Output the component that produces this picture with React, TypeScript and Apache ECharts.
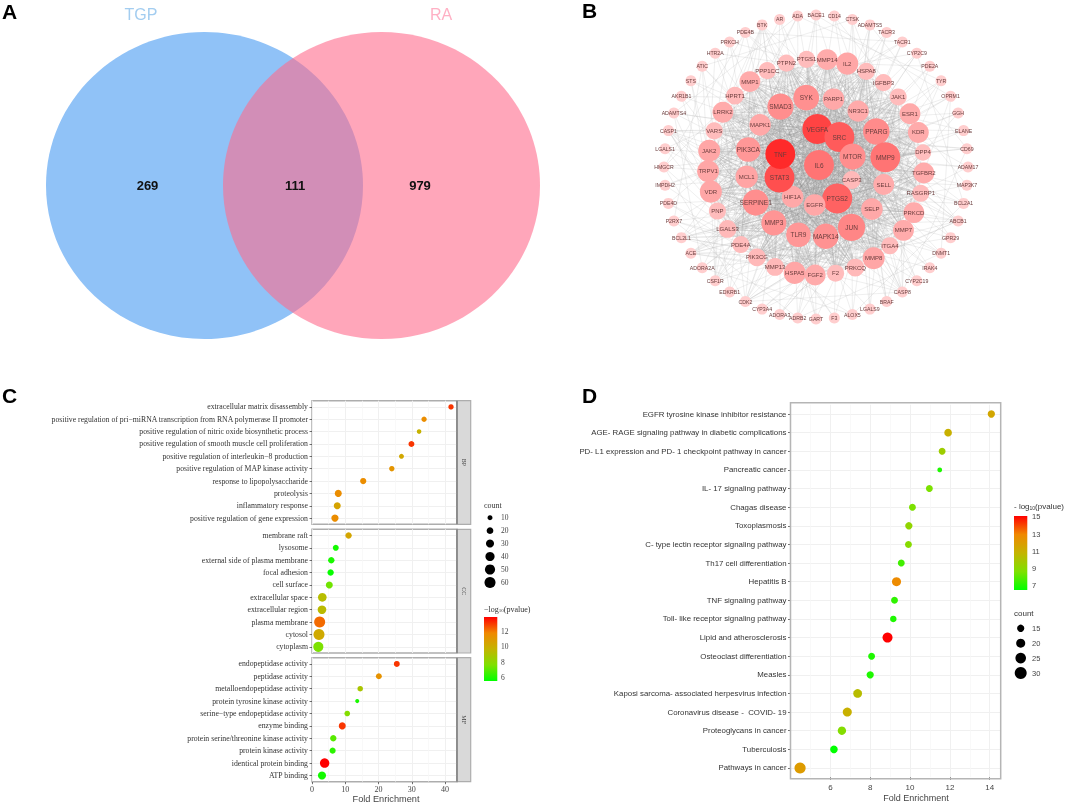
import React, { useEffect, useRef } from "react";
import * as echarts from "echarts";

/* ---------- A: Venn ---------- */
const vennNames = ["TGP", "RA"];
const vennCounts = ["269", "111", "979"];

/* ---------- B: network ---------- */
const coreCentre = "IL6";
const coreRing = ["VEGFA", "SRC", "MTOR", "CASP3", "PTGS2", "EGFR", "HIF1A", "STAT3", "TNF"];
const innerRing = ["SYK", "PARP1", "NR3C1", "PPARG", "MMP9", "SELL", "SELP", "JUN", "MAPK14", "TLR9", "MMP3", "SERPINE1", "MCL1", "PIK3CA", "MAPK1", "SMAD3"];
const middleRing = ["PTGS1", "MMP14", "IL2", "HSPA8", "IGFBP3", "JAK1", "ESR1", "KDR", "DPP4", "TGFBR2", "RASGRP1", "PRKCD", "MMP7", "ITGA4", "MMP8", "PRKCQ", "F2", "FGF2", "HSPA5", "MMP13", "PIK3CG", "PDE4A", "LGALS3", "PNP", "VDR", "TRPV1", "JAK2", "VARS", "LRRK2", "HPRT1", "MMP1", "PPP1CC", "PTPN2"];
const outerRing = ["BACE1", "CD14", "CTSK", "ADAMTS5", "TACR3", "TACR1", "CYP2C9", "PDE2A", "TYR", "OPRM1", "GGH", "ELANE", "CD69", "ADAM17", "MAP3K7", "BCL2A1", "ABCB1", "GPR29", "DNMT1", "IRAK4", "CYP2C19", "CASP8", "BRAF", "LGALS9", "ALOX5", "F3", "GART", "ADRB2", "ADORA3", "CYP3A4", "CDK2", "EDKRB1", "CSF1R", "ADORA2A", "ACE", "BCL2L1", "P2RX7", "PDE4D", "IMPDH2", "HMGCR", "LGALS1", "CASP1", "ADAMTS4", "AKR1B1", "STS", "ATIC", "HTR2A", "PRKCH", "PDE4B", "BTK", "AR", "ADA"];
// Rim nodes from which the picture shows a visible fan of edges.
const outerHubs = ["BCL2L1", "ACE", "CASP1", "BTK", "ABCB1", "CASP8", "CSF1R", "CDK2"];
// Degrees are estimated from node size and colour in the picture.
const coreCentreDegree = 60;
const coreDegrees = [68, 64, 50, 28, 63, 38, 38, 66, 72];
const innerDegrees = [49, 38, 37, 51, 60, 36, 38, 53, 48, 46, 47, 50, 40, 46, 38, 50];
const middleDegrees = [26, 36, 39, 26, 26, 26, 36, 36, 24, 36, 26, 36, 36, 26, 39, 28, 26, 36, 39, 28, 28, 26, 28, 26, 39, 39, 39, 26, 36, 28, 36, 26, 26];
const outerDegree = 10;

/* ---------- C: GO enrichment ---------- */
const bpTerms = ["extracellular matrix disassembly", "positive regulation of pri\u2212miRNA transcription from RNA polymerase II promoter", "positive regulation of nitric oxide biosynthetic process", "positive regulation of smooth muscle cell proliferation", "positive regulation of interleukin\u22128 production", "positive regulation of MAP kinase activity", "response to lipopolysaccharide", "proteolysis", "inflammatory response", "positive regulation of gene expression"];
const bpEnrichment = [41.8, 33.7, 32.2, 29.9, 26.9, 24.0, 15.4, 7.9, 7.6, 6.9];
const bpCount = [12, 12, 8, 15, 10, 12, 17, 22, 22, 24];
const bpLogP = [13, 11.5, 9.8, 13, 10.3, 11.2, 11.5, 11.5, 10.5, 11.5];

const ccTerms = ["membrane raft", "lysosome", "external side of plasma membrane", "focal adhesion", "cell surface", "extracellular space", "extracellular region", "plasma membrane", "cytosol", "cytoplasm"];
const ccEnrichment = [11.0, 7.15, 5.8, 5.6, 5.2, 3.1, 3.0, 2.3, 2.1, 1.9];
const ccCount = [18, 15, 18, 18, 22, 35, 35, 60, 60, 50];
const ccLogP = [10.4, 5.9, 6.0, 5.7, 7.4, 9.3, 9.4, 12.2, 10.2, 7.6];

const mfTerms = ["endopeptidase activity", "peptidase activity", "metalloendopeptidase activity", "protein tyrosine kinase activity", "serine\u2212type endopeptidase activity", "enzyme binding", "protein serine/threonine kinase activity", "protein kinase activity", "identical protein binding", "ATP binding"];
const mfEnrichment = [25.5, 20.1, 14.5, 13.6, 10.6, 9.1, 6.4, 6.2, 3.8, 3.0];
const mfCount = [15, 15, 13, 6, 13, 22, 18, 16, 43, 30];
const mfLogP = [13, 11.3, 8.9, 6.0, 7.8, 13, 7.0, 6.3, 13.8, 5.9];

const goFacets = ["BP", "CC", "MF"];
const goXTicks = [0, 10, 20, 30, 40];
const goCountLegend = [10, 20, 30, 40, 50, 60];
const goColorLegend = [12, 10, 8, 6];

/* ---------- D: KEGG enrichment ---------- */
const keggTerms = ["EGFR tyrosine kinase inhibitor resistance", "AGE- RAGE signaling pathway in diabetic complications", "PD- L1 expression and PD- 1 checkpoint pathway in cancer", "Pancreatic cancer", "IL- 17 signaling pathway", "Chagas disease", "Toxoplasmosis", "C- type lectin receptor signaling pathway", "Th17 cell differentiation", "Hepatitis B", "TNF signaling pathway", "Toll- like receptor signaling pathway", "Lipid and atherosclerosis", "Osteoclast differentiation", "Measles", "Kaposi sarcoma- associated herpesvirus infection", "Coronavirus disease -  COVID- 19", "Proteoglycans in cancer", "Tuberculosis", "Pathways in cancer"];
const keggEnrichment = [14.08, 11.91, 11.61, 11.49, 10.97, 10.12, 9.94, 9.92, 9.56, 9.32, 9.22, 9.16, 8.87, 8.07, 8.0, 7.37, 6.85, 6.58, 6.18, 4.48];
const keggCount = [15, 16, 14, 9, 14, 14, 15, 14, 14, 20, 14, 13, 23, 14, 15, 19, 20, 18, 16, 27];
const keggLogP = [11.5, 11, 9.6, 7, 8.6, 8.6, 9.2, 8.9, 7.6, 12.8, 7.3, 7, 15.1, 7, 7, 10.4, 11, 8.8, 6.5, 12];
const keggXTicks = [6, 8, 10, 12, 14];
const keggCountLegend = [15, 20, 25, 30];
const keggColorLegend = [15, 13, 11, 9, 7];

/* ---------- shared look ---------- */
const SERIF = "Liberation Serif";
const SANS = "Liberation Sans";
const gradientStops = ["#00FF00", "#7FE000", "#C4B400", "#F08800", "#FF0000"];
const goRange = [5.6, 13.8];
const keggRange = [6.5, 15.1];
const goSize = (c: number) => 1.31 * Math.sqrt(c) + 0.86;
const keggSize = (c: number) => 2.93 * Math.sqrt(c) - 4.05;

const hexToRgb = (h: string) => [1, 3, 5].map((i) => parseInt(h.slice(i, i + 2), 16));
const degreeColorStops: [number, string][] = [[10, "#FFCECE"], [26, "#FFBCBC"], [38, "#FFA8A8"], [50, "#FF8E8E"], [60, "#FF7474"], [72, "#FF2A2A"]];
function degreeColor(d: number) {
  for (let i = 1; i < degreeColorStops.length; i++) {
    const [d0, c0] = degreeColorStops[i - 1];
    const [d1, c1] = degreeColorStops[i];
    if (d <= d1) {
      const t = Math.max(0, (d - d0) / (d1 - d0));
      const a = hexToRgb(c0), b = hexToRgb(c1);
      return `rgb(${a.map((v, k) => Math.round(v + (b[k] - v) * t)).join(",")})`;
    }
  }
  return degreeColorStops[degreeColorStops.length - 1][1];
}
const degreeSize = (d: number) => Math.min(30, 11 + (d - 10) * 0.38);

function buildNetwork() {
  const R = { outer: 152, middle: 108, inner: 70, core: 38 };
  const place = (i: number, n: number, r: number, start: number) => {
    const a = ((start + (i * 360) / n) * Math.PI) / 180;
    return { x: r * Math.sin(a), y: -r * Math.cos(a) };
  };
  const node = (name: string, deg: number, p: { x: number; y: number }) => ({
    name, x: p.x, y: p.y,
    symbolSize: degreeSize(deg),
    itemStyle: { color: degreeColor(deg) },
    label: { fontSize: deg >= 45 ? 6.5 : deg >= 24 ? 6 : 5.2 },
  });
  const nodes = [
    ...outerRing.map((n, i) => node(n, outerDegree, place(i, 52, R.outer, 0))),
    ...middleRing.map((n, i) => node(n, middleDegrees[i], place(i, 33, R.middle, -5))),
    ...innerRing.map((n, i) => node(n, innerDegrees[i], place(i, 16, R.inner, -8))),
    node(coreCentre, coreCentreDegree, { x: 3, y: -2 }),
    ...coreRing.map((n, i) => node(n, coreDegrees[i], place(i, 10, R.core, 2))),
  ];
  // The individual edges of the original cannot be read from the picture. These links are an
  // illustrative, fixed wiring that reproduces its density (dense centre, sparse rim), not real data.
  const links: any[] = [];
  const strong = { color: "#8C8C8C", width: 0.45, opacity: 0.42 };
  const faint = { color: "#B0B0B0", width: 0.4, opacity: 0.5 };
  const add = (source: string, target: string, lineStyle: any = strong) => {
    if (source !== target) links.push({ source, target, lineStyle });
  };
  const core = [coreCentre, ...coreRing];
  core.forEach((a, i) => core.slice(i + 1).forEach((b) => add(a, b)));
  innerRing.forEach((a, i) => {
    core.forEach((b) => add(a, b));
    innerRing.slice(i + 1).forEach((b) => add(a, b));
    for (let k = 0; k < 17; k++) add(a, middleRing[(i * 2 + k * 2) % 33]);
  });
  middleRing.forEach((a, i) => {
    for (let k = 0; k < 7; k++) add(a, core[(i + k) % 10]);
    [7, 11, 4, 16].forEach((s) => add(a, middleRing[(i + s) % 33], faint));
  });
  outerRing.forEach((a, i) => {
    add(a, core[i % 10], faint);
    add(a, innerRing[(i * 3) % 16], faint);
    add(a, middleRing[(i * 5) % 33], faint);
    add(a, middleRing[(i + 13) % 33], faint);
    if (i % 3 === 0) add(a, outerRing[(i + 9) % 52], faint);
  });
  outerHubs.forEach((h, j) => {
    for (let k = 0; k < 7; k++) add(h, middleRing[(j * 4 + k * 3) % 33], faint);
  });
  return { nodes, links };
}

/* ---------- C panels ---------- */
const goPanels = [
  { top: 400.7, height: 123.6, terms: bpTerms, x: bpEnrichment, c: bpCount, p: bpLogP },
  { top: 529.3, height: 123.7, terms: ccTerms, x: ccEnrichment, c: ccCount, p: ccLogP },
  { top: 657.7, height: 124, terms: mfTerms, x: mfEnrichment, c: mfCount, p: mfLogP },
];
const GO_LEFT = 312, GO_RIGHT = 457, STRIP_RIGHT = 470.7;

const gridLine = { color: "#F0F0F0", width: 1 };
const minorLine = { color: "#F6F6F6", width: 0.7 };

function buildOption() {
  const grid: any[] = [], xAxis: any[] = [], yAxis: any[] = [], series: any[] = [], graphic: any[] = [];
  const text = (t: string, x: number, y: number, o: any = {}) => ({
    type: "text", x, y, z: 20, silent: true,
    style: { text: t, fontFamily: SANS, fontSize: 8, fill: "#333", align: "left", verticalAlign: "middle", ...o },
  });

  // Panel letters
  graphic.push(text("A", 2, 11, { fontSize: 21, fontWeight: "bold", fill: "#000" }));
  graphic.push(text("B", 582, 10, { fontSize: 21, fontWeight: "bold", fill: "#000" }));
  graphic.push(text("C", 2, 395, { fontSize: 21, fontWeight: "bold", fill: "#000" }));
  graphic.push(text("D", 582, 395, { fontSize: 21, fontWeight: "bold", fill: "#000" }));

  // A: Venn
  graphic.push({ type: "ellipse", z: 1, silent: true, shape: { cx: 204.5, cy: 185.5, rx: 158.5, ry: 153.5 }, style: { fill: "#90C2F7" } });
  graphic.push({ type: "ellipse", z: 2, silent: true, shape: { cx: 381.5, cy: 185.5, rx: 158.5, ry: 153.5 }, style: { fill: "#FF6B8C", opacity: 0.6 } });
  graphic.push(text(vennNames[0], 141, 14, { fontSize: 16, fill: "#A3CDF0", align: "center" }));
  graphic.push(text(vennNames[1], 441, 14, { fontSize: 16, fill: "#FFB0C4", align: "center" }));
  [147.5, 295, 420].forEach((x, i) => graphic.push(text(vennCounts[i], x, 185, { fontSize: 13, fontWeight: "bold", fill: "#111", align: "center" })));

  // C: three facets
  goPanels.forEach((pn, i) => {
    const last = i === goPanels.length - 1;
    grid.push({ left: GO_LEFT, top: pn.top, width: GO_RIGHT - GO_LEFT, height: pn.height, show: true, borderColor: "#ADADAD", borderWidth: 1.5, backgroundColor: "#fff" });
    xAxis.push({
      gridIndex: i, type: "value", min: 0, max: 43.6, interval: 10,
      axisLine: { show: false },
      axisTick: { show: last, length: 2.5, lineStyle: { color: "#333", width: 0.7 }, customValues: goXTicks },
      axisLabel: { show: last, fontFamily: SERIF, fontSize: 8, color: "#444", margin: 4, customValues: goXTicks },
      splitLine: { show: true, lineStyle: gridLine },
      minorTick: { show: false, splitNumber: 2 },
      minorSplitLine: { show: true, lineStyle: minorLine },
    });
    yAxis.push({
      gridIndex: i, type: "category", data: pn.terms, inverse: true,
      axisLine: { show: false },
      axisTick: { show: true, alignWithLabel: true, length: 2.5, lineStyle: { color: "#333", width: 0.7 } },
      axisLabel: { interval: 0, fontFamily: SERIF, fontSize: 7.75, color: "#333", margin: 4 },
      splitLine: { show: true, alignWithLabel: true, interval: 0, lineStyle: gridLine },
    });
    series.push({
      type: "scatter", xAxisIndex: i, yAxisIndex: i,
      data: pn.terms.map((t, k) => [pn.x[k], t, pn.c[k], pn.p[k]]),
      encode: { x: 0, y: 1 },
      symbolSize: (v: any[]) => goSize(v[2]),
      itemStyle: { opacity: 1 },
      silent: true,
    });
    // strip
    const midY = pn.top + pn.height / 2;
    graphic.push({ type: "rect", z: 10, silent: true, shape: { x: GO_RIGHT, y: pn.top, width: STRIP_RIGHT - GO_RIGHT, height: pn.height }, style: { fill: "#D9D9D9", stroke: "#ADADAD", lineWidth: 1.2 } });
    graphic.push({ type: "line", z: 11, silent: true, shape: { x1: GO_RIGHT, y1: pn.top, x2: GO_RIGHT, y2: pn.top + pn.height }, style: { stroke: "#7F7F7F", lineWidth: 1.5 } });
    graphic.push({ ...text(goFacets[i], (GO_RIGHT + STRIP_RIGHT) / 2, midY, { fontFamily: SERIF, fontSize: 6, fill: "#444", align: "center" }), rotation: -Math.PI / 2 });
  });
  graphic.push(text("Fold Enrichment", 386, 799, { fontSize: 9.2, fill: "#444", align: "center" }));

  // C legends
  graphic.push(text("count", 484, 505, { fontFamily: SERIF, fontSize: 8 }));
  goCountLegend.forEach((c, i) => {
    const y = 517.7 + i * 12.95;
    graphic.push({ type: "circle", z: 20, silent: true, shape: { cx: 490, cy: y, r: goSize(c) / 2 }, style: { fill: "#000" } });
    graphic.push(text(String(c), 501, y, { fontFamily: SERIF, fontSize: 7.5, fill: "#444" }));
  });
  graphic.push(text("{a|\u2212log}{b|10}{a|(pvalue)}", 484, 609, { fontFamily: SERIF, rich: { a: { fontFamily: SERIF, fontSize: 8, fill: "#333" }, b: { fontFamily: SERIF, fontSize: 5, fill: "#333", verticalAlign: "bottom" } } }));
  const colorbar = (x: number, y: number, w: number, h: number) => ({
    type: "rect", z: 20, silent: true, shape: { x, y, width: w, height: h },
    style: { fill: new echarts.graphic.LinearGradient(0, 0, 0, 1, gradientStops.slice().reverse().map((color, i) => ({ offset: i / 4, color }))) },
  });
  graphic.push(colorbar(484, 617, 13.3, 64));
  goColorLegend.forEach((v) => {
    const y = 617 + ((goRange[1] - v) / (goRange[1] - goRange[0])) * 64;
    graphic.push(text(String(v), 501, y, { fontFamily: SERIF, fontSize: 7.5, fill: "#444" }));
  });

  // D
  const gi = goPanels.length;
  grid.push({ left: 790.5, top: 404.7, width: 210.2, height: 372.6 });
  graphic.push({ type: "rect", z: 9, silent: true, shape: { x: 790.5, y: 402.7, width: 210.2, height: 376 }, style: { fill: "none", stroke: "#B5B5B5", lineWidth: 1.5 } });
  xAxis.push({
    gridIndex: gi, type: "value", min: 4, max: 14.55, interval: 2,
    axisLine: { show: false },
    axisTick: { show: true, length: 2.5, lineStyle: { color: "#333", width: 0.7 }, customValues: keggXTicks },
    axisLabel: { fontFamily: SANS, fontSize: 8, color: "#444", margin: 6, customValues: keggXTicks },
    splitLine: { show: true, lineStyle: gridLine },
    minorTick: { show: false, splitNumber: 2 },
    minorSplitLine: { show: true, lineStyle: minorLine },
  });
  yAxis.push({
    gridIndex: gi, type: "category", data: keggTerms, inverse: true,
    axisLine: { show: false },
    axisTick: { show: true, alignWithLabel: true, length: 2.5, lineStyle: { color: "#333", width: 0.7 } },
    axisLabel: { interval: 0, fontFamily: SANS, fontSize: 7.85, color: "#333", margin: 4 },
    splitLine: { show: true, alignWithLabel: true, interval: 0, lineStyle: gridLine },
  });
  series.push({
    type: "scatter", xAxisIndex: gi, yAxisIndex: gi,
    data: keggTerms.map((t, k) => [keggEnrichment[k], t, keggCount[k], keggLogP[k]]),
    encode: { x: 0, y: 1 },
    symbolSize: (v: any[]) => keggSize(v[2]),
    itemStyle: { opacity: 1 },
    silent: true,
  });
  graphic.push(text("Fold Enrichment", 916, 798, { fontSize: 9, fill: "#444", align: "center" }));

  // D legends
  graphic.push(text("{a|- log}{b|10}{a|(pvalue)}", 1014, 506.7, { rich: { a: { fontFamily: SANS, fontSize: 8, fill: "#333" }, b: { fontFamily: SANS, fontSize: 5, fill: "#333", verticalAlign: "bottom" } } }));
  graphic.push(colorbar(1014, 516, 13.3, 74));
  keggColorLegend.forEach((v) => {
    const y = 516 + ((keggRange[1] - v) / (keggRange[1] - keggRange[0])) * 74;
    graphic.push(text(String(v), 1032, y, { fontSize: 7.5, fill: "#444" }));
  });
  graphic.push(text("count", 1014, 613, { fontSize: 8 }));
  keggCountLegend.forEach((c, i) => {
    const y = 628.3 + i * 14.9;
    graphic.push({ type: "circle", z: 20, silent: true, shape: { cx: 1020.7, cy: y, r: keggSize(c) / 2 }, style: { fill: "#000" } });
    graphic.push(text(String(c), 1032, y, { fontSize: 7.5, fill: "#444" }));
  });

  // B: network
  const net = buildNetwork();
  series.push({
    type: "graph", layout: "none", roam: false, silent: true,
    left: 816 - 152, top: 167 - 152, width: 304, height: 304,
    data: net.nodes, links: net.links,
    lineStyle: { curveness: 0 },
    itemStyle: { borderWidth: 0 },
    label: { show: true, position: "inside", fontFamily: SANS, color: "#6A3C3C" },
    emphasis: { disabled: true },
  });

  return {
    animation: false,
    backgroundColor: "#fff",
    grid, xAxis, yAxis, series, graphic,
    visualMap: [
      { show: false, type: "continuous", seriesIndex: [0, 1, 2], dimension: 3, min: goRange[0], max: goRange[1], inRange: { color: gradientStops } },
      { show: false, type: "continuous", seriesIndex: [3], dimension: 3, min: keggRange[0], max: keggRange[1], inRange: { color: gradientStops } },
    ],
  };
}

export default function App() {
  const ref = useRef<HTMLDivElement>(null);
  useEffect(() => {
    document.body.style.margin = "0";
    const chart = echarts.init(ref.current!, undefined, { renderer: "svg" });
    chart.setOption(buildOption() as any);
    return () => chart.dispose();
  }, []);
  return <div ref={ref} style={{ width: 1065, height: 804, willChange: "transform" }} />;
}
